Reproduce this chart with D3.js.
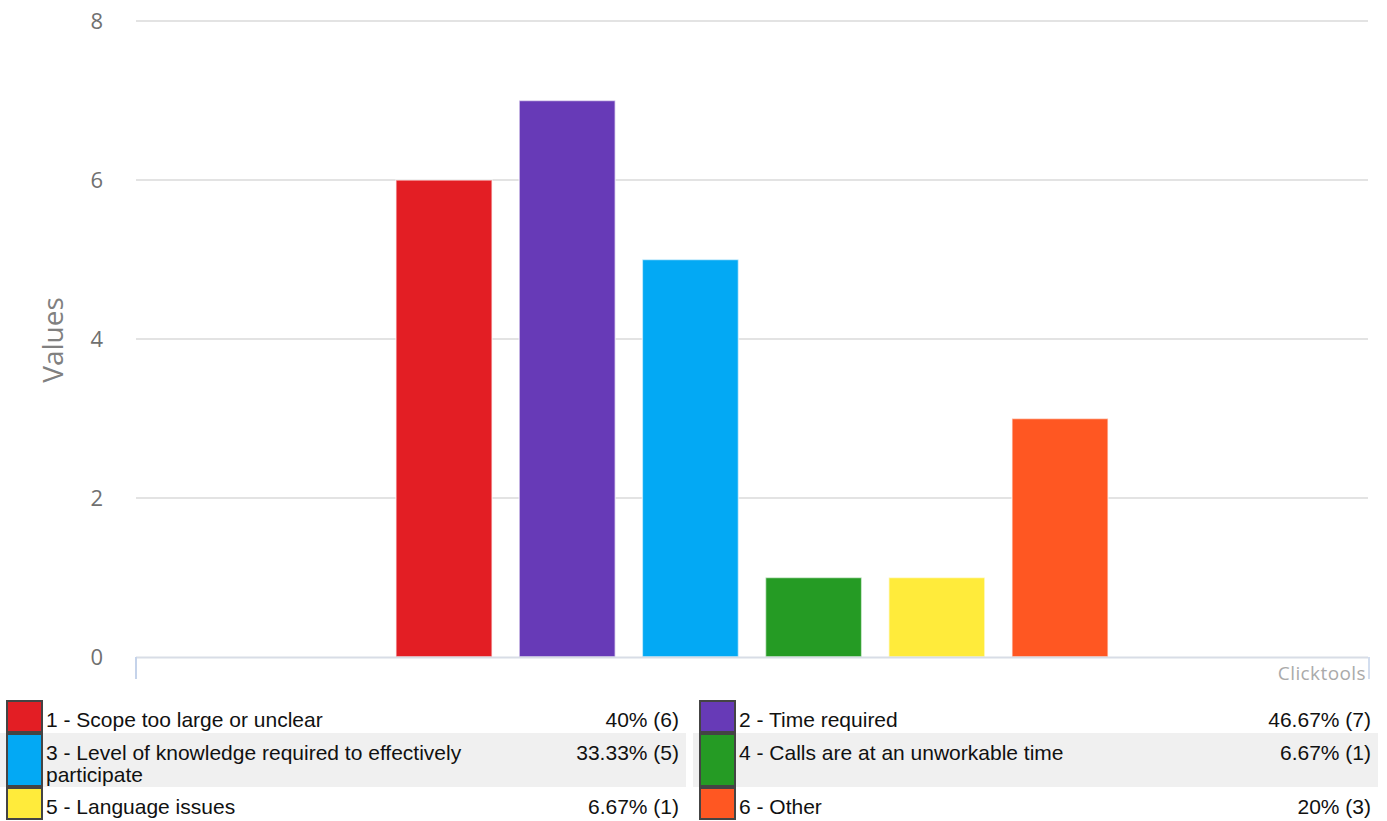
<!DOCTYPE html>
<html><head><meta charset="utf-8">
<script src="https://cdn.jsdelivr.net/npm/d3@7"></script>
<style>body{margin:0;background:#fff}svg{display:block}</style>
</head><body>
<svg id="c" width="1387" height="821"></svg>
<script>
const categories = ["1 - Scope too large or unclear","2 - Time required","3 - Level of knowledge required to effectively participate","4 - Calls are at an unworkable time","5 - Language issues","6 - Other"];
const values = [6,7,5,1,1,3];
const percents = ["40%","46.67%","33.33%","6.67%","6.67%","20%"];
const colors = ["#e31e24","#673ab7","#03a9f4","#259b24","#ffeb3b","#ff5722"];
const yTicks = [0,2,4,6,8];

const svg = d3.select("#c");
const L=136,R=1368,T=21,B=657;
const y = d3.scaleLinear().domain([0,8]).range([B,T]);
const step=(R-L)/10;
const x = d3.scaleBand().domain(d3.range(categories.length)).range([L+2*step,L+8*step]).paddingInner(0.22).paddingOuter(0.11);

// grid
svg.append("g").selectAll("line").data(yTicks.filter(d=>d>0)).join("line")
  .attr("x1",L).attr("x2",R).attr("y1",d=>y(d)).attr("y2",d=>y(d))
  .attr("stroke","#e3e3e3").attr("stroke-width",2);
// y labels
svg.append("g").selectAll("text").data(yTicks).join("text")
  .attr("x",103).attr("y",d=>y(d)).attr("dy","0.36em").attr("text-anchor","end")
  .attr("font-family","Open Sans").attr("font-size",22).attr("fill","#707070").text(d=>d);
svg.append("text").attr("transform",`translate(63,340) rotate(-90)`)
  .attr("text-anchor","middle").attr("font-family","Open Sans").attr("font-size",28).attr("fill","#808080").text("Values");
// bars
svg.append("g").selectAll("rect").data(values).join("rect")
  .attr("x",(d,i)=>x(i)).attr("width",x.bandwidth())
  .attr("y",d=>y(d)).attr("height",d=>y(0)-y(d)).attr("fill",(d,i)=>colors[i])
  .attr("stroke","#fff").attr("stroke-opacity",0.6).attr("stroke-width",1.5);
// axis line
svg.append("line").attr("x1",L).attr("x2",R).attr("y1",B+0.5).attr("y2",B+0.5).attr("stroke","#d8dde6").attr("stroke-width",2);
svg.append("line").attr("x1",L).attr("x2",L).attr("y1",B).attr("y2",679).attr("stroke","#c5d3ea").attr("stroke-width",2);
svg.append("line").attr("x1",R+1).attr("x2",R+1).attr("y1",B).attr("y2",679).attr("stroke","#c5d3ea").attr("stroke-width",1.5);
svg.append("text").attr("x",1366).attr("y",680).attr("text-anchor","end")
  .attr("font-family","Open Sans").attr("font-size",19).attr("fill","#aaa").attr("letter-spacing","0.4").text("Clicktools");

// legend
const rowTop=[700,733,787], rowH=[33,54,33];
const lg = svg.append("g");
const fs = 21;
categories.forEach((c,i)=>{
  const r=Math.floor(i/2), col=i%2;
  const x0 = col===0?0:693, sw = col===0?7:700, pr = col===0?679:1371, bgR = col===0?686:1378;
  const g=lg.append("g");
  if(r===1) g.append("rect").attr("x",x0).attr("y",rowTop[r]).attr("width",bgR-x0).attr("height",rowH[r]).attr("fill","#f0f0f0");
  g.append("rect").attr("x",sw).attr("y",rowTop[r]+1).attr("width",35).attr("height",rowH[r]-2)
    .attr("fill",colors[i]).attr("stroke","#444").attr("stroke-width",2);
  const t=g.append("text").attr("x",sw+39).attr("y",rowTop[r]+27).attr("font-family","Liberation Sans, Arial").attr("font-size",fs).attr("fill","#111");
  if(i===2){
    t.append("tspan").attr("x",sw+39).text("3 - Level of knowledge required to effectively");
    t.append("tspan").attr("x",sw+39).attr("dy",22).text("participate");
  } else t.text(c);
  g.append("text").attr("x",pr).attr("y",rowTop[r]+27).attr("text-anchor","end").attr("font-family","Liberation Sans, Arial").attr("font-size",fs).attr("fill","#111")
    .text(`${percents[i]} (${values[i]})`);
});
</script>
</body></html>
